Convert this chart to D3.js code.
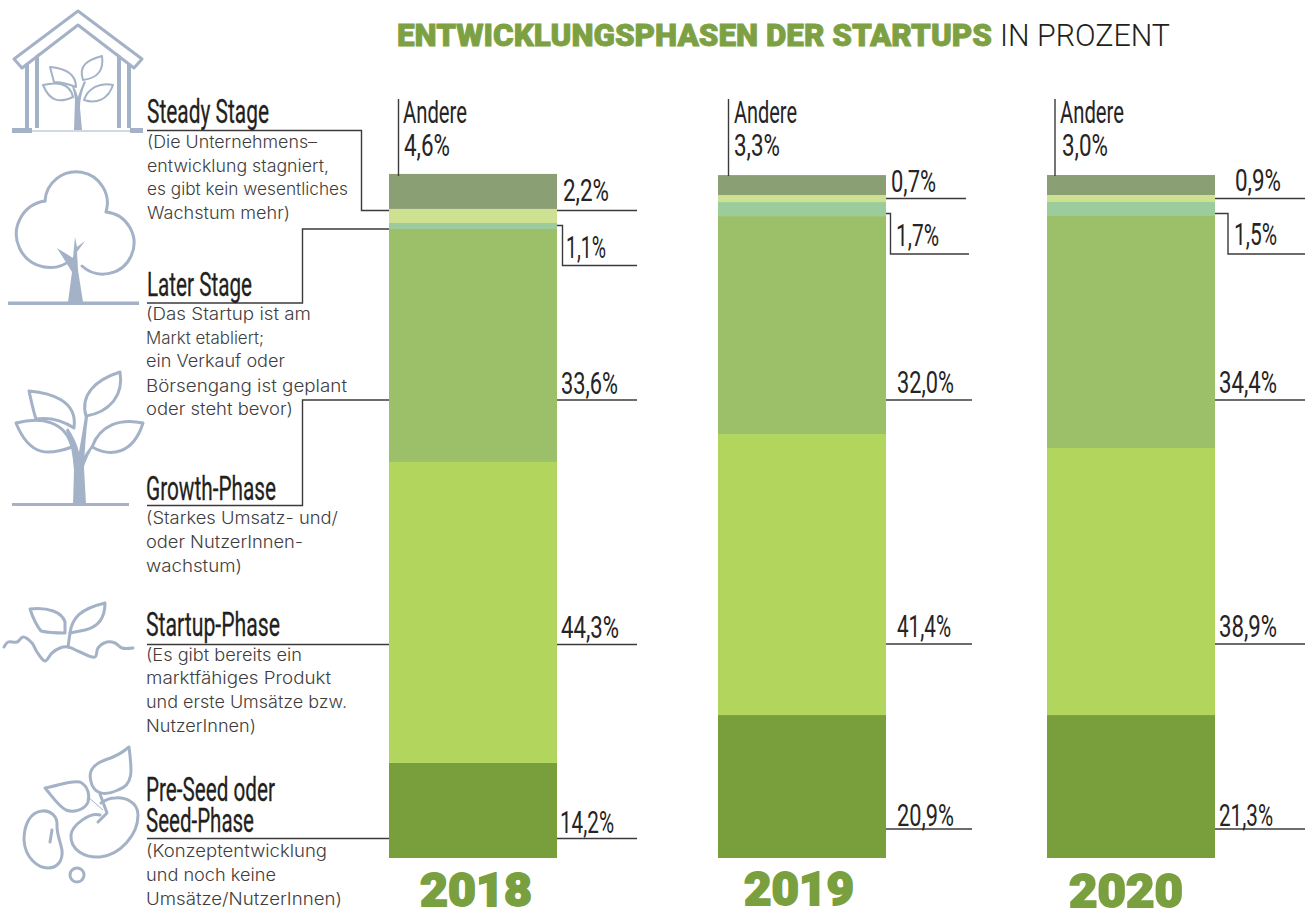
<!DOCTYPE html>
<meta charset="utf-8">
<style>

body {
  margin: 0;
  background: #fff;
}

svg {
  display: block;
}

.leader {
  fill: none;
  stroke: #3c3a3b;
  stroke-width: 1.4;
}

.cond {
  font-family: Roboto, sans-serif;
  font-size: 32px;
  font-weight: 400;
  fill: #262425;
}

.stage {
  font-family: Roboto, sans-serif;
  font-size: 34px;
  font-weight: 400;
  fill: #231f20;
  stroke: #231f20;
  stroke-width: 0.3;
}

.desc {
  font-family: Inter, sans-serif;
  font-size: 17px;
  font-weight: 300;
  fill: #3f3d3e;
}

.head {
  font-family: Roboto, sans-serif;
  font-size: 31px;
  font-weight: 900;
  fill: #7da142;
  stroke: #7da142;
  stroke-width: 0.9;
}

.head2 {
  font-family: Roboto, sans-serif;
  font-size: 31px;
  font-weight: 300;
  fill: #231f20;
}

.year {
  font-family: Roboto, sans-serif;
  font-size: 47px;
  font-weight: 900;
  fill: #7a9f3f;
  stroke: #7a9f3f;
  stroke-width: 1.8;
}

.icon {
  fill: none;
  stroke: #a4b2c7;
  stroke-width: 3;
  stroke-linejoin: round;
  stroke-linecap: round;
}

.iconLight {
  fill: none;
  stroke: #a4b2c7;
  stroke-width: 2;
  stroke-linejoin: round;
}

.iconThin {
  fill: none;
  stroke: #a4b2c7;
  stroke-width: 1;
}

.iconFill {
  fill: #a4b2c7;
  stroke: none;
}

</style>
<svg id="chart"></svg>
<script src="https://d3js.org/d3.v7.min.js"></script>
<script>

// bottom to top
let phases = ["seed", "startup", "growth", "later", "steady", "andere"];
let colors = ["#799f3c", "#b1d55d", "#9cbf69", "#9dcc9c", "#cde190", "#8b9f74"];
let years = ["2018", "2019", "2020"];

// printed percentages
let printed2018 = [14.2, 44.3, 33.6, 1.1, 2.2, 4.6];
let printed2019 = [20.9, 41.4, 32.0, 1.7, 0.7, 3.3];
let printed2020 = [21.3, 38.9, 34.4, 1.5, 0.9, 3.0];

// segment heights as they are really drawn in the picture (% of bar height),
// the original graphic doesn't follow its own labels exactly
let drawn2018 = [13.9, 44.0, 34.06, 0.88, 2.05, 5.12];
let drawn2019 = [20.9, 41.08, 31.87, 2.05, 1.02, 2.92];
let drawn2020 = [20.9, 39.04, 33.92, 2.05, 1.02, 2.92];

let printed = {"2018": printed2018, "2019": printed2019, "2020": printed2020};
let drawn = {"2018": drawn2018, "2019": drawn2019, "2020": drawn2020};

let title = "ENTWICKLUNGSPHASEN DER STARTUPS";
let titleUnit = "IN PROZENT";
let otherLabel = "Andere";

let width = 1305, height = 909;

let svg = d3.select("#chart")
  .attr("width", width)
  .attr("height", height);

let x = d3.scaleBand()
  .domain(years)
  .range([389, 1215])
  .paddingInner(0.4894)
  .paddingOuter(0);

let y = d3.scaleLinear()
  .domain([0, 100])
  .range([858, 174]);

// text squeezed to a fixed width, the condensed fonts of the original aren't available
function label(g, cls, px, py, str, w) {
  return g.append("text")
    .attr("class", cls)
    .attr("x", px)
    .attr("y", py)
    .attr("textLength", w)
    .attr("lengthAdjust", "spacingAndGlyphs")
    .text(str);
}

function comma(v) {
  return d3.format(".1f")(v).replace(".", ",") + "%";
}

// BARS

let table = years.map(function(yr) {
  let row = {year: yr};
  phases.forEach(function(p, i) { row[p] = drawn[yr][i]; });
  return row;
});

let stacked = d3.stack().keys(phases)(table);

svg.append("g").selectAll("g")
  .data(stacked)
  .enter()
  .append("g")
  .attr("fill", function(d, i) { return colors[i]; })
  .selectAll("rect")
  .data(function(d) { return d; })
  .enter()
  .append("rect")
  .attr("x", function(d) { return x(d.data.year); })
  .attr("y", function(d) { return y(d[1]); })
  .attr("width", x.bandwidth())
  .attr("height", function(d) { return y(d[0]) - y(d[1]); });

// LEADERS

let line = d3.line();
let leaders = svg.append("g");

let leaderPoints = [
  // left column
  [[147, 130.5], [361.5, 130.5], [361.5, 210.5], [389, 210.5]],
  [[147, 303], [302.5, 303], [302.5, 229], [389, 229]],
  [[147, 505.5], [302.5, 505.5], [302.5, 400], [389, 400]],
  [[147, 644.5], [389, 644.5]],
  [[147, 838.5], [389, 838.5]],
  // 2018
  [[398.5, 99], [398.5, 176]],
  [[557, 210.5], [637, 210.5]],
  [[557, 225.5], [562.5, 225.5], [562.5, 265.5], [637, 265.5]],
  [[557, 400], [637, 400]],
  [[557, 644.5], [637, 644.5]],
  [[557, 838.5], [637, 838.5]],
  // 2019
  [[728.5, 99], [728.5, 176]],
  [[886, 198.5], [966, 198.5]],
  [[886, 213.5], [890.5, 213.5], [890.5, 254], [969, 254]],
  [[886, 400], [972, 400]],
  [[886, 644], [972, 644]],
  [[886, 829], [972, 829]],
  // 2020
  [[1055, 99], [1055, 176]],
  [[1215, 198.5], [1305, 198.5]],
  [[1215, 213.5], [1228, 213.5], [1228, 254], [1305, 254]],
  [[1215, 400], [1305, 400]],
  [[1215, 644], [1305, 644]],
  [[1215, 829], [1305, 829]]
];

leaders.selectAll("path")
  .data(leaderPoints)
  .enter()
  .append("path")
  .attr("class", "leader")
  .attr("d", function(d) { return line(d); });

// VALUE LABELS  [phase index, x, baseline, width]

let labels = svg.append("g");

let labelPos = {
  "2018": [[0, 560, 833, 54], [1, 561, 638, 58], [2, 561, 394, 57], [3, 566, 258, 40], [4, 563, 201, 46], [5, 404, 156, 46]],
  "2019": [[0, 897, 826, 57], [1, 897, 637, 54], [2, 897, 393, 57], [3, 896, 246, 43], [4, 891, 192, 45], [5, 734, 156, 46]],
  "2020": [[0, 1219, 826, 54], [1, 1219, 637, 58], [2, 1219, 393, 58], [3, 1234, 245, 43], [4, 1235, 191, 46], [5, 1062, 156, 46]]
};

years.forEach(function(yr) {
  labelPos[yr].forEach(function(p) {
    label(labels, "cond", p[1], p[2], comma(printed[yr][p[0]]), p[3]);
  });
});

label(labels, "cond", 403, 123, otherLabel, 64);
label(labels, "cond", 734, 123, otherLabel, 63);
label(labels, "cond", 1060, 123, otherLabel, 64);

// YEARS

label(svg, "year", 420, 906, years[0], 112);
label(svg, "year", 744, 905, years[1], 110);
label(svg, "year", 1069, 907, years[2], 114);

// TITLE

label(svg, "head", 397, 46, title, 595);
label(svg, "head2", 1000, 46, titleUnit, 170);

// LEFT COLUMN

let names = [
  ["Steady Stage", 147, 123, 122],
  ["Later Stage", 147, 296, 105],
  ["Growth-Phase", 146, 500, 130],
  ["Startup-Phase", 146, 636, 134],
  ["Pre-Seed oder", 146, 801, 129],
  ["Seed-Phase", 146, 832, 108]
];

let descriptions = [
  ["(Die Unternehmens\u2013", 147, 148, 170],
  ["entwicklung stagniert,", 147, 172, 182],
  ["es gibt kein wesentliches", 147, 195, 201],
  ["Wachstum mehr)", 147, 219, 143],
  ["(Das Startup ist am", 146, 320, 165],
  ["Markt etabliert;", 146, 344, 118],
  ["ein Verkauf oder", 146, 367, 139],
  ["B\u00f6rsengang ist geplant", 146, 392, 201],
  ["oder steht bevor)", 146, 415, 147],
  ["(Starkes Umsatz- und/", 146, 524, 192],
  ["oder NutzerInnen-", 146, 548, 157],
  ["wachstum)", 146, 572, 96],
  ["(Es gibt bereits ein", 146, 661, 156],
  ["marktf\u00e4higes Produkt", 146, 684, 185],
  ["und erste Ums\u00e4tze bzw.", 146, 708, 201],
  ["NutzerInnen)", 146, 732, 110],
  ["(Konzeptentwicklung", 146, 857, 181],
  ["und noch keine", 146, 881, 130],
  ["Ums\u00e4tze/NutzerInnen)", 146, 905, 196]
];

names.forEach(function(n) { label(svg, "stage", n[1], n[2], n[0], n[3]); });
descriptions.forEach(function(n) { label(svg, "desc", n[1], n[2], n[0], n[3]); });

// ICONS

let icons = svg.append("g");

function outline(d) { icons.append("path").attr("class", "icon").attr("d", d); }
function light(d) { icons.append("path").attr("class", "iconLight").attr("d", d); }
function thin(d) { icons.append("path").attr("class", "iconThin").attr("d", d); }
function solid(d) { icons.append("path").attr("class", "iconFill").attr("d", d); }

// greenhouse
outline("M14,59 L78,11 L142,59 L134,68 L78,25 L22,68 Z");
solid("M25,64 L29,62 L29,128 L25,128 Z M35,56 L39,53 L39,128 L35,128 Z");
solid("M117,53 L121,56 L121,128 L117,128 Z M127,62 L131,64 L131,128 L127,128 Z");
solid("M12,128 L32,128 L32,133 L12,133 Z M130,128 L143,128 L143,133 L130,133 Z");
thin("M32,131 L130,131");
solid("M74,130 L82,130 L80,108 Q80,95 86,82 L84,81 Q80,90 78,97 Q76,90 73,85 L72,86 Q74,92 75,100 Z");
light("M83,80 C78,65 88,60 102,56 C104,70 98,78 83,80 Z");
light("M50,67 C62,68 76,72 76,87 C68,84 60,82 54,82 Z");
light("M43,85 C55,82 70,82 73,97 C60,103 50,102 43,85 Z");
light("M113,85 C100,82 88,88 84,100 C96,104 108,100 113,85 Z");

// tree
outline("M45,201 A31.2,31.2 0 1 1 106,212 A31.1,31.1 0 1 1 82,266");
outline("M72,259 A33.4,33.4 0 1 1 45,201");
solid("M68,302 L72,272 L57,248 L73,258 L75,237 L77,247 L85,241 L77,252 L78,270 L83,302 Z");
solid("M8,301.5 L139,301.5 L139,305 L8,305 Z");

// young tree
solid("M12,503 L129,503 L129,506 L12,506 Z");
solid("M73,504 L86,504 L84,468 Q85,440 88,417 L85,416 Q82,435 79,452 Q76,440 68,428 L66,430 Q72,445 74,470 Z");
solid("M84,466 Q88,455 93,447 L91,446 Q86,452 83,458 Z");
outline("M86,416 C80,395 95,380 120,372 C124,395 110,412 86,416 Z");
outline("M29,391 C50,393 78,400 74,428 C62,420 50,417 36,419 C33,410 31,400 29,391 Z");
outline("M16,423 C40,417 65,420 72,447 C50,455 30,458 16,423 Z");
outline("M143,423 C120,418 100,425 92,447 C110,457 133,455 143,423 Z");

// sprout
let groundPoints = [[4, 647], [8, 642], [17, 642], [23, 637], [32, 643], [37, 652], [45, 661], [52, 653], [60, 648], [68, 647],
  [80, 652], [95, 657], [98, 648], [107, 642], [115, 643], [122, 648], [133, 648]];
outline(d3.line().curve(d3.curveCatmullRom)(groundPoints));
outline("M30,609 C48,607 62,612 65,622 L65,633 C55,633 45,632 41,631 C36,625 32,615 30,609 Z");
outline("M70,633 C72,618 80,609 105,603 C105,618 98,627 85,630 Z");
outline("M70,633 L68,647");

// seeds
outline("M129,747 C132,770 134,785 118,790 C105,796 96,794 92,785 C87,772 92,765 105,760 C115,757 122,753 129,747 Z");
outline("M45,788 C58,786 70,780 80,782 C88,786 90,795 88,802 C85,810 73,813 66,810 C58,806 52,796 45,788 Z");
outline("M100,815 C90,812 72,825 71,835 C70,850 85,858 100,857 C120,855 138,835 138,815 C138,802 125,797 115,798 C108,798 104,801 101,803");
outline("M42,811 C30,812 24,825 24,840 C25,858 38,868 48,868 C58,868 63,860 62,850 C60,840 57,835 57,826 C58,816 50,810 42,811 Z");
outline("M52,830 L50,842");
outline("M100,794 L107,813 L98,822");
thin("M88,797 L103,810");
icons.append("circle")
  .attr("class", "icon")
  .attr("cx", 77)
  .attr("cy", 875)
  .attr("r", 7);

</script>
